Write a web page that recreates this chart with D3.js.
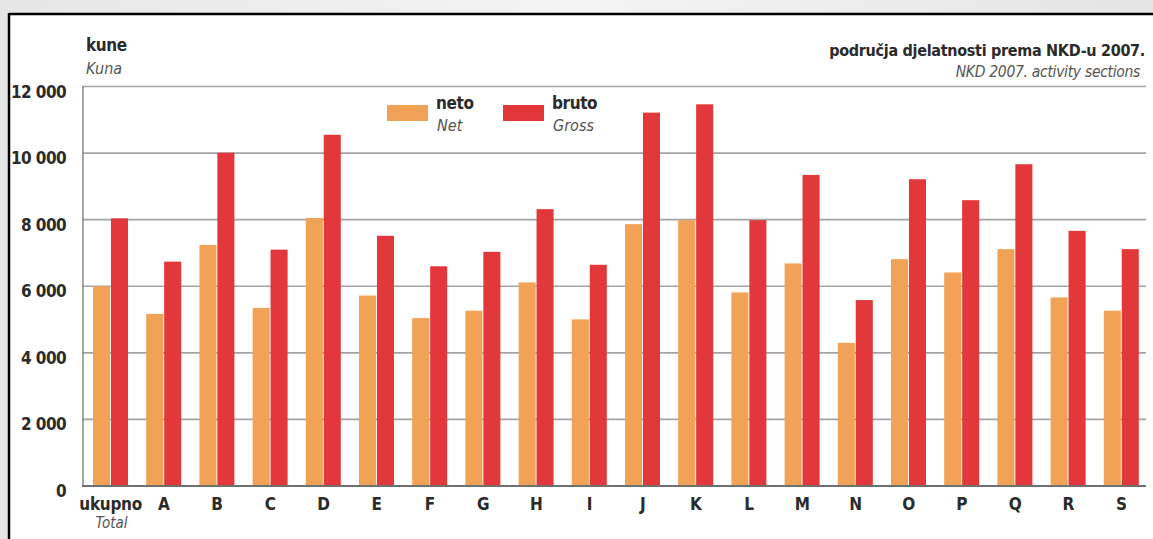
<!DOCTYPE html>
<html><head><meta charset="utf-8">
<script src="https://cdn.jsdelivr.net/npm/d3@7"></script>
<style>
html,body{margin:0;padding:0;background:#ebebeb;}
svg{display:block;}
text{font-family:"Liberation Sans Narrow","DejaVu Sans Condensed","Liberation Sans",sans-serif;}
</style></head>
<body>
<svg id="c" width="1153" height="539"></svg>
<script>
const categories = ["ukupno","A","B","C","D","E","F","G","H","I","J","K","L","M","N","O","P","Q","R","S"];
const netValues   = [6000,5170,7240,5350,8050,5720,5045,5265,6115,5005,7865,7985,5815,6685,4300,6815,6415,7115,5665,5265];
const grossValues = [8040,6740,10010,7100,10550,7515,6600,7035,8315,6645,11215,11465,7985,9345,5585,9215,8585,9665,7665,7115];
const yTicks = [0,2000,4000,6000,8000,10000,12000];
const seriesKeys = ["neto","bruto"];
const seriesLabels = {neto:"Net", bruto:"Gross"};

const colors = {neto:"#f2a257", bruto:"#e2373b"};
const svg = d3.select("#c");

// background & frame
const defs = svg.append("defs");
const g1 = defs.append("linearGradient").attr("id","bg").attr("x1",0).attr("x2",1);
g1.append("stop").attr("offset",0).attr("stop-color","#e6e6e6");
g1.append("stop").attr("offset",0.5).attr("stop-color","#f4f4f4");
g1.append("stop").attr("offset",1).attr("stop-color","#e4e4e4");
svg.append("rect").attr("width",1153).attr("height",539).attr("fill","url(#bg)");
svg.append("rect").attr("x",9).attr("y",14).attr("width",1150).attr("height",540).attr("fill","#fff");
svg.append("line").attr("x1",9).attr("x2",1153).attr("y1",14).attr("y2",14).attr("stroke","#000").attr("stroke-width",2.5);
svg.append("line").attr("x1",9).attr("x2",9).attr("y1",13).attr("y2",539).attr("stroke","#000").attr("stroke-width",2.5);

const x0 = d3.scaleBand().domain(categories).range([82,1146]).paddingInner(0).paddingOuter(0);
const x1 = d3.scaleBand().domain(seriesKeys).range([11,46]).paddingInner(0.05);
const y = d3.scaleLinear().domain([0,12000]).range([486,86.5]);

// gridlines
svg.append("g").selectAll("line").data(yTicks.filter(d=>d>0)).join("line")
  .attr("x1",82).attr("x2",1146).attr("y1",d=>y(d)).attr("y2",d=>y(d))
  .attr("stroke","#a3a3a3").attr("stroke-width",1.6);

// y axis labels
const yAxis = d3.axisLeft(y).tickValues(yTicks).tickSize(0).tickPadding(0)
  .tickFormat(d=>d3.format(",")(d).replace(/,/g," "));
const ya = svg.append("g").attr("transform","translate(66,0)").call(yAxis);
ya.select(".domain").remove();
ya.selectAll("text").attr("font-size",17).attr("fill","#2a2a2a").attr("font-weight","bold").attr("dy","0.62em")
  .attr("letter-spacing","-0.6");

// bars
const grp = svg.append("g").selectAll("g").data(categories).join("g")
  .attr("transform",d=>`translate(${x0(d)},0)`);
grp.selectAll("rect").data((d,i)=>[{k:"neto",v:netValues[i]},{k:"bruto",v:grossValues[i]}]).join("rect")
  .attr("x",d=>x1(d.k)).attr("width",x1.bandwidth())
  .attr("y",d=>y(d.v)).attr("height",d=>y(0)-y(d.v))
  .attr("fill",d=>colors[d.k]);

// axes lines
svg.append("line").attr("x1",83).attr("x2",83).attr("y1",86).attr("y2",486).attr("stroke","#8a8a8a").attr("stroke-width",1.5);
svg.append("line").attr("x1",82).attr("x2",1146).attr("y1",486).attr("y2",486).attr("stroke","#6f6f6f").attr("stroke-width",2);

// x axis labels
const xAxis = d3.axisBottom(x0).tickSize(0).tickPadding(0);
const xa = svg.append("g").attr("transform","translate(2,496)").call(xAxis);
xa.select(".domain").remove();
xa.selectAll("text").attr("font-size",17).attr("fill","#2a2a2a").attr("font-weight","bold").attr("dy","0.85em")
  .attr("letter-spacing","-0.3");
svg.append("text").attr("x",x0("ukupno")+x0.bandwidth()/2+3).attr("y",528).attr("text-anchor","middle")
  .attr("font-size",15).attr("font-style","italic").attr("fill","#555").text("Total");

// titles
svg.append("text").attr("x",86).attr("y",51).attr("font-size",17).attr("font-weight","bold").attr("fill","#2a2a2a").attr("letter-spacing","-0.4").text("kune");
svg.append("text").attr("x",86).attr("y",74).attr("font-size",16).attr("font-style","italic").attr("fill","#555").text("Kuna");
svg.append("text").attr("x",1145).attr("y",56).attr("text-anchor","end").attr("font-size",16).attr("font-weight","bold").attr("fill","#2a2a2a").attr("letter-spacing","-0.3").text("područja djelatnosti prema NKD-u 2007.");
svg.append("text").attr("x",1140).attr("y",77).attr("text-anchor","end").attr("font-size",15.5).attr("font-style","italic").attr("fill","#555").attr("letter-spacing","-0.3").text("NKD 2007. activity sections");

// legend
const legendPos = {neto:387, bruto:503};
seriesKeys.forEach(k=>{
  const lx = legendPos[k];
  svg.append("rect").attr("x",lx).attr("y",105).attr("width",41).attr("height",16).attr("fill",colors[k]);
  svg.append("text").attr("x",lx+49).attr("y",109).attr("font-size",17).attr("font-weight","bold").attr("fill","#2a2a2a").attr("letter-spacing","-0.4").text(k);
  svg.append("text").attr("x",lx+50).attr("y",131).attr("font-size",16).attr("font-style","italic").attr("fill","#555").text(seriesLabels[k]);
});
</script>
</body></html>
